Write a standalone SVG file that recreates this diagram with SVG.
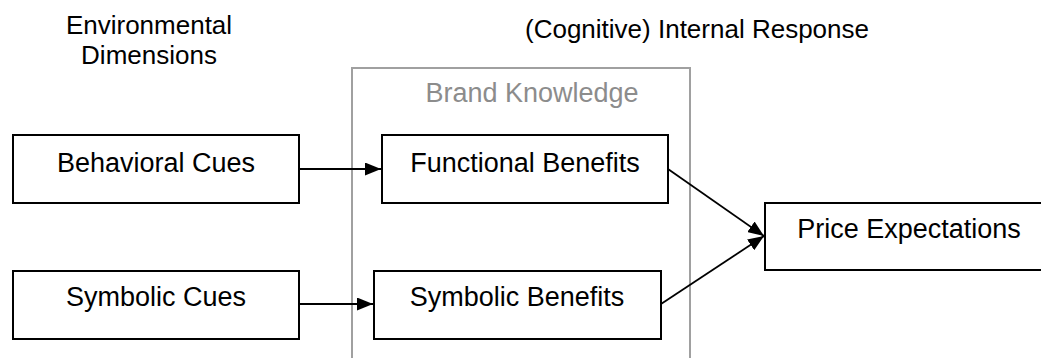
<svg xmlns="http://www.w3.org/2000/svg" width="1041" height="358" viewBox="0 0 1041 358">
  <style>
    text { font-family: "Liberation Sans", Arial, sans-serif; font-size: 27px; fill: #000; text-anchor: middle; }
    .heading { font-size: 26px; }
    .group-label { fill: #8c8c8c; }
    .box { fill: #fff; stroke: #000; stroke-width: 2; }
    .group-frame { fill: none; stroke: #a0a0a0; stroke-width: 2; }
    .edge { fill: none; stroke: #000; stroke-width: 1.8; marker-end: url(#arrow); }
  </style>
  <defs>
    <marker id="arrow" viewBox="0 0 16 13" refX="16" refY="6.5" markerWidth="16" markerHeight="13" markerUnits="userSpaceOnUse" orient="auto">
      <path d="M0,0 L16,6.5 L0,13 Z" fill="#000"/>
    </marker>
  </defs>
  <rect width="1041" height="358" fill="#fff"/>

  <!-- column headings -->
  <g id="heading-environment">
    <text class="heading" x="149" y="34">Environmental</text>
    <text class="heading" x="149" y="64">Dimensions</text>
  </g>
  <g id="heading-response">
    <text class="heading" x="697" y="38">(Cognitive) Internal Response</text>
  </g>

  <!-- brand knowledge grouping frame (open at the bottom) -->
  <g id="brand-knowledge">
    <path class="group-frame" d="M352,360 V68 H690 V360"/>
    <text class="group-label" x="532" y="102">Brand Knowledge</text>
  </g>

  <g id="behavioral-cues">
    <rect class="box" x="13" y="135" width="286" height="68"/>
    <text x="156" y="172">Behavioral Cues</text>
  </g>
  <g id="symbolic-cues">
    <rect class="box" x="13" y="271" width="286" height="68"/>
    <text x="156" y="306">Symbolic Cues</text>
  </g>
  <g id="functional-benefits">
    <rect class="box" x="382" y="135" width="286" height="68"/>
    <text x="525" y="172">Functional Benefits</text>
  </g>
  <g id="symbolic-benefits">
    <rect class="box" x="374" y="271" width="287" height="68"/>
    <text x="517" y="306">Symbolic Benefits</text>
  </g>
  <g id="price-expectations">
    <rect class="box" x="765" y="203" width="290" height="67"/>
    <text x="909" y="238">Price Expectations</text>
  </g>

  <g id="connectors">
    <line class="edge" x1="299" y1="169" x2="381" y2="169"/>
    <line class="edge" x1="299" y1="304" x2="373" y2="304"/>
    <line class="edge" x1="668" y1="169" x2="764" y2="236"/>
    <line class="edge" x1="661" y1="304" x2="764" y2="236"/>
  </g>
</svg>
